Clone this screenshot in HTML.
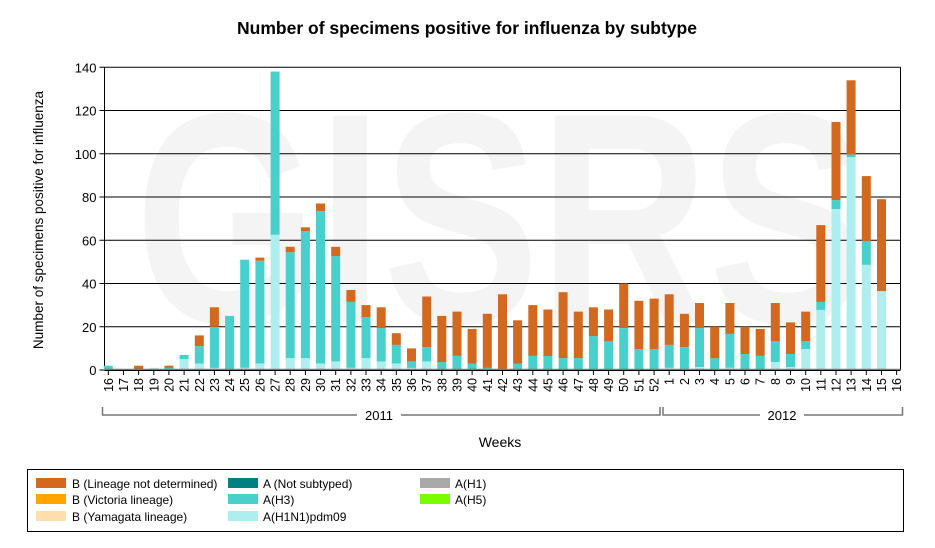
<!DOCTYPE html>
<html><head><meta charset="utf-8"><style>
body{margin:0;background:#fff;}
svg{display:block;font-family:"Liberation Sans",Arial,sans-serif;}
</style></head><body>
<svg id="s" width="935" height="548" xmlns="http://www.w3.org/2000/svg">
<rect width="935" height="548" fill="#fff"/>
<text x="467" y="34" text-anchor="middle" font-size="17.5" font-weight="bold">Number of specimens positive for influenza by subtype</text>
<text x="135" y="322" font-size="300" font-weight="bold" fill="#f4f4f4" textLength="730" lengthAdjust="spacingAndGlyphs">GISRS</text>
<g id="g"></g>
<text x="500" y="447" text-anchor="middle" font-size="14">Weeks</text>
<text transform="translate(43,220) rotate(-90)" text-anchor="middle" font-size="13.5">Number of specimens positive for influenza</text>
<rect x="27.5" y="469.5" width="876" height="62" fill="#fff" stroke="#000"/>
<rect x="36" y="478" width="30" height="10" fill="#d2691e"/><text x="72" y="488" font-size="12">B (Lineage not determined)</text>
<rect x="36" y="494" width="30" height="10" fill="#ffa500"/><text x="72" y="504" font-size="12">B (Victoria lineage)</text>
<rect x="36" y="511" width="30" height="10" fill="#ffdead"/><text x="72" y="521" font-size="12">B (Yamagata lineage)</text>
<rect x="228" y="478" width="30" height="10" fill="#008080"/><text x="263" y="488" font-size="12">A (Not subtyped)</text>
<rect x="228" y="494" width="30" height="10" fill="#48d1cc"/><text x="263" y="504" font-size="12">A(H3)</text>
<rect x="228" y="511" width="30" height="10" fill="#afeeee"/><text x="263" y="521" font-size="12">A(H1N1)pdm09</text>
<rect x="420" y="478" width="30" height="10" fill="#a9a9a9"/><text x="455" y="488" font-size="12">A(H1)</text>
<rect x="420" y="494" width="30" height="10" fill="#7cfc00"/><text x="455" y="504" font-size="12">A(H5)</text>
</svg>
<script>
var g=document.getElementById('g'),h='';
var X0=104.5,X1=900.5,Y0=370,YT=67.3,k=(Y0-YT)/140;
function y(v){return Y0-v*k;}
for(var v=0;v<=140;v+=20){h+='<line x1="'+(X0-5)+'" x2="'+X1+'" y1="'+y(v).toFixed(1)+'" y2="'+y(v).toFixed(1)+'" stroke="#000" stroke-width="1"/>';
h+='<text x="'+(X0-8)+'" y="'+(y(v)+5).toFixed(1)+'" text-anchor="end" font-size="13">'+v+'</text>';}
h+='<line x1="'+X0+'" x2="'+X0+'" y1="'+YT+'" y2="'+Y0+'" stroke="#000"/>';
h+='<line x1="'+X1+'" x2="'+X1+'" y1="'+YT+'" y2="'+Y0+'" stroke="#000"/>';
var d=[[0,2,0],[0,0,0],[0,0,2],[1,0,0],[0,1,1],[5,2,0],[3,8,5],[1,19,9],[0,25,0],[1,50,0],[3,47.5,1.5],[62.5,75.5,0],[5.5,49,2.5],[5.5,58.8,1.7],[3,70.5,3.5],[4,48.7,4.3],[1,30.5,5.5],[5.5,19,5.5],[4,15.4,9.6],[3,8.6,5.4],[1,3,6],[4,6.6,23.4],[0,3.7,21.3],[0,6.5,20.5],[0,3,16],
[0,1,25],[0.5,0,34.5],[0,3,20],[0,6.5,23.5],[0,6.5,21.5],[0,5.5,30.5],[0,5.5,21.5],[0,15.7,13.3],[0,13.4,14.6],[0,19.4,20.6],[0,9.7,22.3],[0,9.7,23.3],
[1,10.6,23.4],[0,10.6,15.4],[1.4,18,11.6],[0,5.5,14.5],[1,15.7,14.3],[0,7.4,12.6],[0,6.5,12.5],[3.7,9.7,17.6],[1.4,6,14.6],[9.7,3.7,13.6],[27.8,3.7,35.5],[74.5,4.1,36.1],[98.5,1.1,34.4],[48.6,11.1,30],[36.5,0,42.5],[0,0,0]];
var labels=[];for(var i=16;i<=52;i++)labels.push(i);for(i=1;i<=16;i++)labels.push(i);
var cols=['#afeeee','#48d1cc','#d2691e'];
for(i=0;i<53;i++){var c=108.3+15.16*i,base=0;
 for(var j=0;j<3;j++){var v=d[i][j];if(v>0){h+='<rect x="'+(c-4.5).toFixed(1)+'" y="'+y(base+v).toFixed(1)+'" width="9" height="'+(v*k).toFixed(1)+'" fill="'+cols[j]+'"/>';base+=v;}}
 h+='<line x1="'+c.toFixed(1)+'" x2="'+c.toFixed(1)+'" y1="370" y2="375" stroke="#000"/>';
 h+='<text transform="translate('+(c+4.5).toFixed(1)+',378) rotate(-90)" text-anchor="end" font-size="12.5">'+labels[i]+'</text>';}
h+='<line x1="'+X0+'" x2="'+X1+'" y1="369.5" y2="369.5" stroke="#777" stroke-width="1.5"/>';
h+='<line x1="'+X0+'" x2="'+X1+'" y1="370.5" y2="370.5" stroke="#000"/>';
function br(a,b,t,tx){h+='<path d="M'+a+' 407 V415 H'+(tx-22)+' M'+(tx+22)+' 415 H'+b+' V407" fill="none" stroke="#777" stroke-width="1.5"/>';
h+='<text x="'+tx+'" y="420" text-anchor="middle" font-size="13">'+t+'</text>';}
br(102.5,660,'2011',379);br(663,902.5,'2012',782);
g.innerHTML=h;
</script>
</body></html>
